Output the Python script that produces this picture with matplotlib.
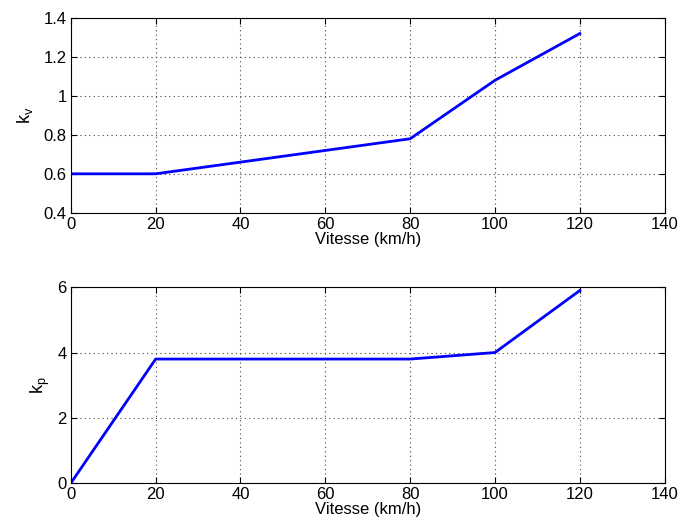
import matplotlib
matplotlib.use("Agg")
import matplotlib.pyplot as plt

vitesse = [0, 20, 80, 100, 120]
kv = [0.6, 0.6, 0.78, 1.08, 1.32]
kp = [0.0, 3.8, 3.8, 4.0, 5.9]

plt.rcParams['font.family'] = ['Liberation Sans', 'DejaVu Sans']
plt.rcParams['font.size'] = 12
plt.rcParams['mathtext.fontset'] = 'custom'
plt.rcParams['mathtext.rm'] = 'Liberation Sans'
plt.rcParams['mathtext.it'] = 'Liberation Sans'

fig = plt.figure(figsize=(6.81, 5.28), dpi=100)
ax1 = fig.add_axes([0.104, 0.597, 0.872, 0.369])
ax2 = fig.add_axes([0.104, 0.085, 0.872, 0.371])


def style(ax):
    ax.set_xlim(0, 140)
    ax.set_xticks(range(0, 141, 20))
    ax.grid(True, linestyle=(0, (1, 3)), color='#444444', linewidth=0.8)
    ax.tick_params(direction='in', top=True, right=True, length=4, pad=3)
    ax.set_xlabel("Vitesse (km/h)", labelpad=0)
    for s in ax.spines.values():
        s.set_linewidth(0.8)


ax1.plot(vitesse, kv, color='#0000ff', linewidth=2)
ax1.set_ylim(0.4, 1.4)
ax1.set_yticks([0.4, 0.6, 0.8, 1.0, 1.2, 1.4])
ax1.set_yticklabels(['0.4', '0.6', '0.8', '1', '1.2', '1.4'])
ax1.set_ylabel(r'k$_\mathregular{v}$', fontsize=13, labelpad=6)
style(ax1)

ax2.plot(vitesse, kp, color='#0000ff', linewidth=2)
ax2.set_ylim(0, 6)
ax2.set_yticks([0, 2, 4, 6])
ax2.set_ylabel(r'k$_\mathregular{p}$', fontsize=13, labelpad=4)
style(ax2)

fig.savefig("out.png", dpi=100)
